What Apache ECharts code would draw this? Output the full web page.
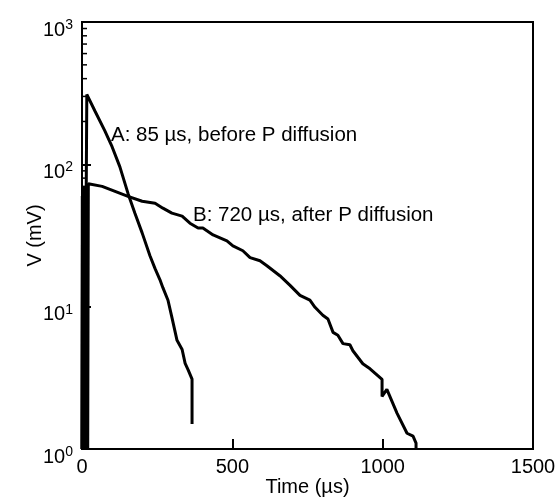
<!DOCTYPE html>
<html>
<head>
<meta charset="utf-8">
<script src="https://cdn.jsdelivr.net/npm/echarts@6/dist/echarts.min.js"></script>
<style>
  html, body { margin: 0; padding: 0; background: #ffffff; }
  #chart { width: 560px; height: 502px; }
</style>
</head>
<body>
<div id="chart"></div>
<script>
// ---- Data ----
// Curve A: 85 µs, before P diffusion (noisy start near t = 0, then decay)
const aTime = [0, 2, 3, 5, 6, 8, 9, 11, 12, 14, 16, 43, 76, 100, 126, 153, 176, 200, 226, 243, 259, 269, 286, 299, 316, 333, 343, 353, 366, 366];
const aV    = [1, 68, 1, 66, 1, 70, 1, 60, 1, 62, 310, 237, 172, 133, 96, 62.5, 45.4, 33, 22.8, 18.5, 15.5, 13.6, 11.1, 8.4, 5.8, 5.0, 4.0, 3.6, 3.1, 1.5];

// Curve B: 720 µs, after P diffusion
const bTime = [0, 1, 4, 7, 10, 12, 15, 17, 19, 21, 23, 67, 110, 153, 200, 243, 269, 299, 333, 359, 386, 402, 436, 482, 502, 535, 559, 592, 615, 658, 692, 725, 758, 775, 801, 818, 835, 851, 868, 891, 901, 934, 958, 998, 998, 1014, 1048, 1081, 1101, 1111, 1111];
const bV    = [1, 60, 1, 65, 1, 62, 1, 58, 1, 73, 71, 70, 64.6, 59.6, 55, 53.3, 49.2, 45.4, 43.3, 38.6, 35.7, 35.7, 31.9, 29.0, 26.7, 24.7, 22.1, 21.0, 19.4, 16.5, 14.1, 12.0, 11.1, 9.9, 8.7, 8.2, 6.6, 6.3, 5.5, 5.4, 4.9, 3.97, 3.66, 3.08, 2.34, 2.62, 1.78, 1.29, 1.23, 1.1, 1.0];

// Axis ranges / ticks
const xMin = 0, xMax = 1500, xStep = 500;
const yMin = 1, yMax = 1000;
const yMinorTicks = [2, 3, 4, 5, 6, 7, 8, 9, 20, 30, 40, 50, 60, 70, 80, 90, 200, 300, 400, 500, 600, 700, 800, 900];

// Text
const xName = 'Time (µs)';
const yName = 'V (mV)';
const labelA = 'A: 85 µs, before P diffusion';
const labelB = 'B: 720 µs, after P diffusion';

const FONT = "'Liberation Sans', Arial, Helvetica, sans-serif";

function pairs(xs, ys) { return xs.map((x, i) => [x, ys[i]]); }

const chart = echarts.init(document.getElementById('chart'), null, { renderer: 'canvas' });

const option = {
  animation: false,
  backgroundColor: '#ffffff',
  textStyle: { fontFamily: FONT, color: '#000' },
  grid: {
    left: 82, right: 27, top: 22, bottom: 49,
    show: true, borderColor: '#000', borderWidth: 2, backgroundColor: 'transparent'
  },
  xAxis: {
    type: 'value', min: xMin, max: xMax, interval: xStep,
    name: xName, nameLocation: 'middle', nameGap: 28, nameMoveOverlap: false,
    nameTextStyle: { fontSize: 20, color: '#000', fontFamily: FONT },
    axisLine: { show: true, lineStyle: { color: '#000', width: 2 } },
    axisTick: { show: true, inside: true, length: 10, lineStyle: { color: '#000', width: 2 } },
    axisLabel: { fontSize: 20, color: '#000', margin: 8, fontFamily: FONT, formatter: function (v) { return String(v); } },
    splitLine: { show: false }
  },
  yAxis: {
    type: 'log', logBase: 10, min: yMin, max: yMax,
    name: yName, nameLocation: 'middle', nameGap: 37, nameMoveOverlap: false,
    nameTextStyle: { fontSize: 20, color: '#000', fontFamily: FONT },
    axisLine: { show: true, lineStyle: { color: '#000', width: 2 } },
    axisTick: { show: true, inside: true, length: 9, lineStyle: { color: '#000', width: 2 } },
    axisLabel: {
      margin: 9, color: '#000',
      padding: [14, 0, 0, 0],
      formatter: function (v) {
        const e = Math.round(Math.log10(v));
        return '{b|10}{s|' + e + '}';
      },
      rich: {
        b: { fontSize: 20, fontFamily: FONT, color: '#000', lineHeight: 22, verticalAlign: 'bottom' },
        s: { fontSize: 14, fontFamily: FONT, color: '#000', lineHeight: 22, verticalAlign: 'top' }
      }
    },
    splitLine: { show: false }
  },
  series: [
    {
      name: 'A', type: 'line', data: pairs(aTime, aV),
      showSymbol: false, symbol: 'none',
      lineStyle: { color: '#000', width: 3 }, z: 3
    },
    {
      name: 'B', type: 'line', data: pairs(bTime, bV),
      showSymbol: false, symbol: 'none',
      lineStyle: { color: '#000', width: 3 }, z: 3
    },
    {
      name: 'minorTicks', type: 'custom',
      data: yMinorTicks.map(v => [xMin, v]),
      silent: true, z: 4,
      renderItem: function (params, api) {
        const p = api.coord([api.value(0), api.value(1)]);
        return {
          type: 'line',
          shape: { x1: p[0], y1: p[1], x2: p[0] + 5, y2: p[1] },
          style: { stroke: '#000', lineWidth: 1.5 }
        };
      }
    }
  ],
  graphic: [
    {
      type: 'text', x: 111, y: 135, z: 10,
      style: { text: labelA, fontSize: 20.5, fontFamily: FONT, fill: '#000', verticalAlign: 'middle', align: 'left' }
    },
    {
      type: 'text', x: 193, y: 215, z: 10,
      style: { text: labelB, fontSize: 20.5, fontFamily: FONT, fill: '#000', verticalAlign: 'middle', align: 'left' }
    }
  ]
};

chart.setOption(option);
</script>
</body>
</html>
